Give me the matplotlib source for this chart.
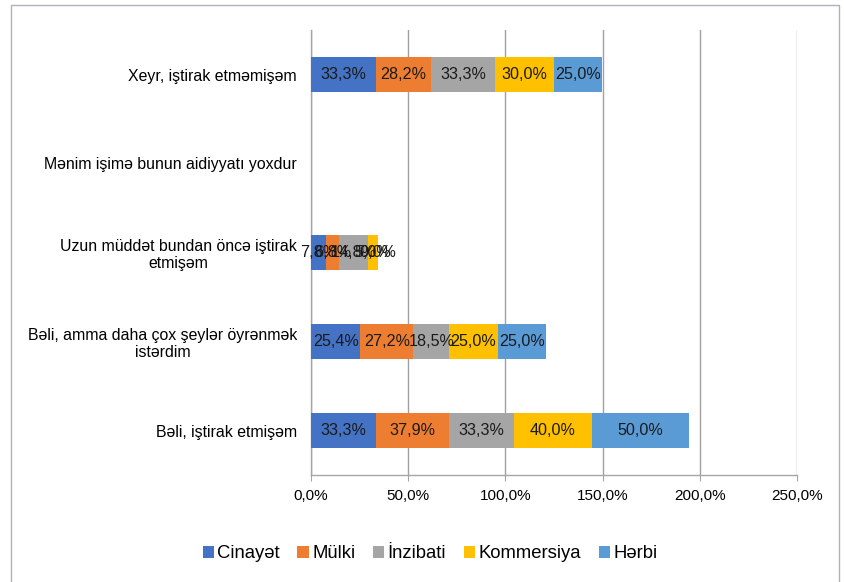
import matplotlib.pyplot as plt
import numpy as np
from matplotlib.patches import Rectangle

plt.rcParams["font.family"] = ["Liberation Sans", "DejaVu Sans"]

categories = [
    "Bəli, iştirak etmişəm",
    "Bəli, amma daha çox şeylər öyrənmək\nistərdim",
    "Uzun müddət bundan öncə iştirak\netmişəm",
    "Mənim işimə bunun aidiyyatı yoxdur",
    "Xeyr, iştirak etməmişəm",
]
series_names = ["Cinayət", "Mülki", "İnzibati", "Kommersiya", "Hərbi"]
cinayet = [33.3, 25.4, 7.8, np.nan, 33.3]
mulki = [37.9, 27.2, 6.8, np.nan, 28.2]
inzibati = [33.3, 18.5, 14.8, np.nan, 33.3]
kommersiya = [40.0, 25.0, 5.0, np.nan, 30.0]
herbi = [50.0, 25.0, 0.0, np.nan, 25.0]
colors = ["#4472C4", "#ED7D31", "#A5A5A5", "#FFC000", "#5B9BD5"]

series = [cinayet, mulki, inzibati, kommersiya, herbi]

fig = plt.figure(figsize=(8.45, 5.82), dpi=100)
ax = fig.add_axes([311 / 845, 1 - 475 / 582, (797 - 311) / 845, (475 - 30) / 582])

y = np.arange(len(categories))
left = np.zeros(len(categories))
for name, vals, col in zip(series_names, series, colors):
    vals = np.asarray(vals, dtype=float)
    w = np.nan_to_num(vals)
    ax.barh(y, w, left=left, height=0.39, color=col, label=name, zorder=3)
    for yi, (v, l) in enumerate(zip(vals, left)):
        if np.isfinite(v):
            ax.text(l + v / 2, yi, f"{v:.1f}%".replace(".", ","),
                    ha="center", va="center", fontsize=11.6, color="#1a1a1a", zorder=4)
    left += w

ax.set_xlim(0, 250)
ax.set_ylim(-0.5, len(categories) - 0.5)
ax.set_xticks(np.arange(0, 251, 50))
ax.set_xticklabels([f"{v:.1f}%".replace(".", ",") for v in np.arange(0, 251, 50)], fontsize=11)
ax.set_yticks(y)
ax.set_yticklabels(categories, fontsize=11.4, ha="right", multialignment="center")
ax.tick_params(axis="y", length=0, pad=10)
ax.tick_params(axis="x", length=4, color="#a6a6a6", pad=6)
ax.grid(axis="x", color="#a0a0a0", linewidth=1.0, zorder=0)
for s in ["top", "right"]:
    ax.spines[s].set_visible(False)
ax.spines["left"].set_color("#a6a6a6")
ax.spines["bottom"].set_color("#a6a6a6")
ax.spines["left"].set_linewidth(1.0)
ax.spines["bottom"].set_linewidth(1.0)

fig.legend(loc="center", bbox_to_anchor=(430 / 845, 1 - 554 / 582), ncol=5,
           frameon=False, fontsize=13.3, handlelength=0.6, handleheight=0.6,
           handletextpad=0.2, columnspacing=0.95)

fig.patches.append(Rectangle((11 / 845, -0.05), (839 - 11) / 845, 1.05 - 5 / 582,
                             transform=fig.transFigure, fill=False,
                             edgecolor="#b0b0c0", linewidth=1.0))

fig.savefig("out.png", dpi=100)
